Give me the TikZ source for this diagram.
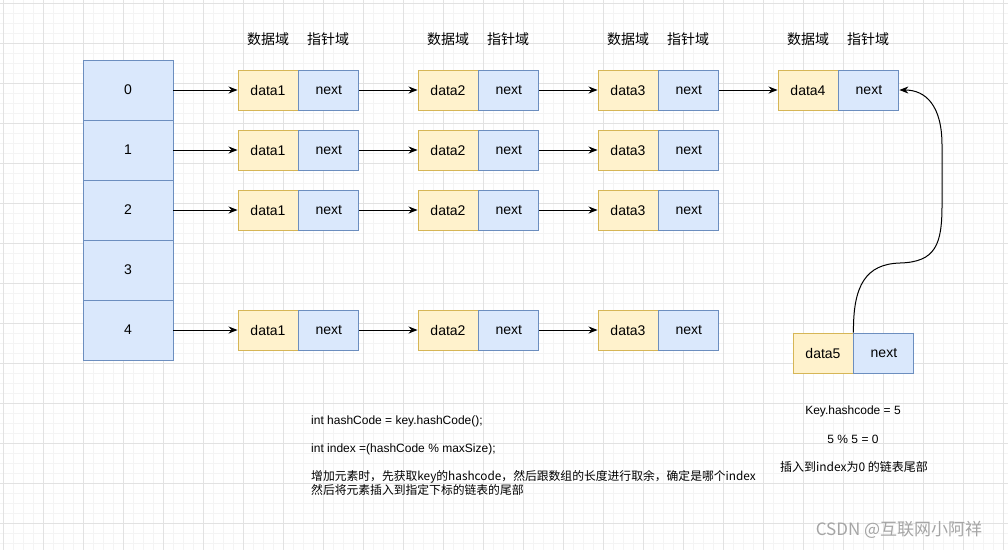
\documentclass[tikz,border=0pt]{standalone}
\usepackage{fontspec}
\setmainfont{Liberation Sans}
\newfontfamily\cjk{Noto Sans CJK SC}
\usetikzlibrary{arrows.meta,positioning}
\definecolor{hashBlue}{RGB}{218,232,252}
\definecolor{hashBlueDark}{RGB}{108,142,191}
\definecolor{hashYellow}{RGB}{255,242,204}
\definecolor{hashYellowDark}{RGB}{214,182,86}
\definecolor{gridMinor}{RGB}{244,244,244}
\definecolor{gridMajor}{RGB}{226,226,226}
\definecolor{markGray}{RGB}{165,165,165}

\begin{document}
\begin{tikzpicture}[x=1pt,y=-1pt,
  cell/.style={draw=hashBlueDark, fill=hashBlue, line width=0.9pt, minimum width=90pt, minimum height=60pt, inner sep=0pt, font=\fontsize{14}{16}\selectfont},
  datbox/.style={draw=hashYellowDark, fill=hashYellow, line width=0.9pt, minimum width=60pt, minimum height=40pt, inner sep=0pt, font=\fontsize{14}{16}\selectfont},
  ptrbox/.style={datbox, draw=hashBlueDark, fill=hashBlue},
  link/.style={line width=1pt, -{Stealth[length=9pt,width=7pt]}},
  fieldlbl/.style={font=\cjk\fontsize{14}{16}\selectfont},
  note/.style={inner sep=0pt, font=\fontsize{12}{13}\selectfont}]
\fill[white] (0,0) rectangle (1008,550);
\useasboundingbox (0,0) rectangle (1008,550);

% grid
\foreach \x in {3,13,...,1003} \draw[gridMinor, line width=0.8pt] (\x,0) -- (\x,550);
\foreach \y in {3,13,...,543} \draw[gridMinor, line width=0.8pt] (0,\y) -- (1008,\y);
\foreach \x in {3,43,...,1003} \draw[gridMajor, line width=0.8pt] (\x,0) -- (\x,550);
\foreach \y in {3,43,...,523} \draw[gridMajor, line width=0.8pt] (0,\y) -- (1008,\y);

% hash table
\foreach \r/\y in {0/90,1/150,2/210,3/270,4/330}
  \node[cell] (b\r) at (128,\y) {\r};

% field names
\foreach \x in {268,448,628,808} {
  \node[fieldlbl] (dl\x) at (\x,39) {数据域};
  \node[fieldlbl] (pl\x) at (\x+60,39) {指针域};
}

% chains
\foreach \r/\y in {0/90,1/150,2/210,4/330} {
  \foreach \k/\x in {1/268,2/448,3/628} {
    \node[datbox] (d\r\k) at (\x,\y) {data\k};
    \node[ptrbox, right=0pt of d\r\k] (n\r\k) {next};
  }
  \draw[link] (b\r) -- (d\r1);
  \draw[link] (n\r1) -- (d\r2);
  \draw[link] (n\r2) -- (d\r3);
}
\node[datbox] (d04) at (808,90) {data4};
\node[ptrbox, right=0pt of d04] (n04) {next};
\draw[link] (n03) -- (d04);

% new entry
\node[datbox] (d5) at (823,353) {data5};
\node[ptrbox, right=0pt of d5] (n5) {next};
\draw[link] (d5.north east) .. controls (853,285) and (866,264) .. (900,263)
  .. controls (936,262) and (942,244) .. (942,205) -- (942,145)
  .. controls (942,106) and (926,90) .. (n04.east);

% notes
\node[note, anchor=west] (c1) at (311,421) {int hashCode = key.hashCode();};
\node[note, anchor=west] (c2) at (311,449) {int index =(hashCode \% maxSize);};
\node[note, anchor=west, align=left, font=\cjk\fontsize{11.8}{12.5}\selectfont] (c3) at (311,483)
  {增加元素时，先获取key的hashcode，然后跟数组的长度进行取余，确定是哪个index\\然后将元素插入到指定下标的链表的尾部};
\node[note] (k1) at (853,411) {Key.hashcode = 5};
\node[note] (k2) at (853,439) {5 \% 5 = 0};
\node[note, font=\cjk\fontsize{12}{13}\selectfont] (k3) at (854,467) {插入到index为0 的链表尾部};
\node[font=\cjk\fontsize{17}{20}\selectfont, text=markGray] (mark) at (899,530) {CSDN @互联网小阿祥};
\end{tikzpicture}
\end{document}
